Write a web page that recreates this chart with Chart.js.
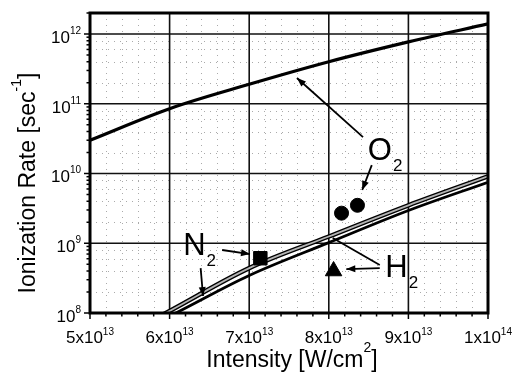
<!DOCTYPE html>
<html lang="en">
<head>
<meta charset="UTF-8">
<title>Ionization Rate</title>
<script src="https://cdn.jsdelivr.net/npm/chart.js"></script>
<style>
  html, body { margin: 0; padding: 0; background: #fff; }
</style>
</head>
<body>
<canvas id="rateChart" width="515" height="375"></canvas>
<script>
// intensity in W/cm^2, rate in 1/sec
const intensity = [5e13, 6e13, 7e13, 8e13, 9e13, 1e14];
const o2Rate = [3.0e10, 8.5e10, 1.9e11, 4.0e11, 7.7e11, 1.4e12];

const intensityLow = [5.8e13, 6e13, 7e13, 8e13, 9e13, 1e14];
const n2Rate = [8.1e7, 1.07e8, 4.4e8, 1.25e9, 3.5e9, 9.1e9];
const h2Rate = [7.0e7, 0.9e8, 3.45e8, 1.02e9, 2.95e9, 7.5e9];

// measured points
const o2MeasX = [8.16e13, 8.36e13];
const o2MeasY = [2.7e9, 3.5e9];
const n2MeasX = [7.14e13];
const n2MeasY = [6.1e8];
const h2MeasX = [8.06e13];
const h2MeasY = [4.0e8];

// tick labels: mantissa x 10^exp
const xTicks = [5e13, 6e13, 7e13, 8e13, 9e13, 1e14];
const xTickMant = ['5', '6', '7', '8', '9', '1'];
const xTickExp = ['13', '13', '13', '13', '13', '14'];
const yTicks = [1e8, 1e9, 1e10, 1e11, 1e12];
const yTickExp = ['8', '9', '10', '11', '12'];

const xTitle = ['Intensity [W/cm', '2', ']'];
const yTitle = ['Ionization Rate [sec', '-1', ']'];

const pts = (xs, ys) => xs.map((x, i) => ({ x: x, y: ys[i] }));

const FONT = '"Liberation Sans", Arial, Helvetica, sans-serif';

// draw "base" + raised "sup" (+ optional tail) with given alignment
function supText(ctx, x, y, parts, size, supSize, rise, align) {
  const [base, sup, tail] = parts;
  ctx.font = size + 'px ' + FONT;
  const w1 = ctx.measureText(base).width;
  const w3 = tail ? ctx.measureText(tail).width : 0;
  ctx.font = supSize + 'px ' + FONT;
  const w2 = ctx.measureText(sup).width;
  const total = w1 + w2 + w3;
  let sx = x;
  if (align === 'center') sx = x - total / 2;
  else if (align === 'right') sx = x - total;
  ctx.textAlign = 'left';
  ctx.textBaseline = 'alphabetic';
  ctx.font = size + 'px ' + FONT;
  ctx.fillText(base, sx, y);
  ctx.font = supSize + 'px ' + FONT;
  ctx.fillText(sup, sx + w1, y - rise);
  if (tail) {
    ctx.font = size + 'px ' + FONT;
    ctx.fillText(tail, sx + w1 + w2, y);
  }
}

function arrow(ctx, x1, y1, x2, y2, head) {
  ctx.beginPath();
  ctx.moveTo(x1, y1);
  ctx.lineTo(x2, y2);
  ctx.stroke();
  if (!head) return;
  const a = Math.atan2(y2 - y1, x2 - x1);
  const len = 9, half = 3.5;
  ctx.beginPath();
  ctx.moveTo(x2, y2);
  ctx.lineTo(x2 - len * Math.cos(a) + half * Math.sin(a), y2 - len * Math.sin(a) - half * Math.cos(a));
  ctx.lineTo(x2 - len * Math.cos(a) - half * Math.sin(a), y2 - len * Math.sin(a) + half * Math.cos(a));
  ctx.closePath();
  ctx.fill();
}

// annotation anchors in data units
const labelsNotes = [
  { txt: ['O', '2'], x: 8.49e13, y: 1.56e10 },
  { txt: ['H', '2'], x: 8.71e13, y: 3.28e8 },
  { txt: ['N', '2'], x: 6.17e13, y: 6.8e8 }
];
const arrowsNotes = [
  { from: [8.43e13, 3.33e10], to: [7.60e13, 2.34e11], head: true },
  { from: [8.54e13, 1.32e10], to: [8.42e13, 5.8e9], head: true },
  { from: [8.64e13, 4.88e8], to: [8.05e13, 1.19e9], head: false },
  { from: [8.64e13, 4.4e8], to: [8.22e13, 4.27e8], head: true },
  { from: [6.66e13, 8.0e8], to: [7.01e13, 7.0e8], head: true },
  { from: [6.39e13, 4.4e8], to: [6.42e13, 1.75e8], head: true }
];

const framePlugin = {
  id: 'frame',
  beforeDatasetsDraw(chart) {
    const { ctx, chartArea: a, scales: { x, y } } = chart;
    ctx.save();
    // minor grid, dotted
    ctx.strokeStyle = '#aaaaaa';
    ctx.lineWidth = 1;
    ctx.setLineDash([1, 5]);
    for (let v = 5e13; v < 1e14; v += 2e12) {
      if (Math.abs(v / 1e13 - Math.round(v / 1e13)) < 1e-6) continue;
      const px = Math.round(x.getPixelForValue(v)) + 0.5;
      ctx.beginPath(); ctx.moveTo(px, a.top); ctx.lineTo(px, a.bottom); ctx.stroke();
    }
    yTicks.forEach(d => {
      [2, 4, 6, 8].forEach(m => {
        const v = d * m;
        if (v >= y.max) return;
        const py = Math.round(y.getPixelForValue(v)) + 0.5;
        ctx.beginPath(); ctx.moveTo(a.left, py); ctx.lineTo(a.right, py); ctx.stroke();
      });
    });
    ctx.setLineDash([]);
    // major grid
    ctx.strokeStyle = '#111';
    ctx.lineWidth = 1.6;
    xTicks.forEach(v => {
      const px = x.getPixelForValue(v);
      ctx.beginPath(); ctx.moveTo(px, a.top); ctx.lineTo(px, a.bottom); ctx.stroke();
    });
    yTicks.forEach(v => {
      const py = y.getPixelForValue(v);
      ctx.beginPath(); ctx.moveTo(a.left, py); ctx.lineTo(a.right, py); ctx.stroke();
    });
    ctx.restore();
  },
  afterDatasetsDraw(chart) {
    const { ctx, chartArea: a, scales: { x, y } } = chart;
    ctx.save();
    ctx.fillStyle = '#000';
    ctx.strokeStyle = '#000';
    // frame
    ctx.lineWidth = 3;
    ctx.strokeRect(a.left, a.top, a.right - a.left, a.bottom - a.top);
    // ticks
    ctx.lineWidth = 1.5;
    yTicks.forEach(d => {
      for (let m = 1; m <= 9; m++) {
        const v = d * m;
        if (v > y.max) break;
        const py = y.getPixelForValue(v);
        const len = m === 1 ? 6 : 3.5;
        ctx.beginPath(); ctx.moveTo(a.left, py); ctx.lineTo(a.left - len, py); ctx.stroke();
      }
    });
    for (let v = 5e13; v <= 1e14 + 1; v += 2e12) {
      const major = Math.abs(v / 1e13 - Math.round(v / 1e13)) < 1e-6;
      const px = x.getPixelForValue(v);
      ctx.beginPath(); ctx.moveTo(px, a.bottom); ctx.lineTo(px, a.bottom + (major ? 6 : 3.5)); ctx.stroke();
    }
    // tick labels
    xTicks.forEach((v, i) => {
      supText(ctx, x.getPixelForValue(v), a.bottom + 30, [xTickMant[i] + 'x10', xTickExp[i]], 17, 10, 8, 'center');
    });
    yTicks.forEach((v, i) => {
      supText(ctx, a.left - 9, y.getPixelForValue(v) + 9, ['10', yTickExp[i]], 17, 10, 9, 'right');
    });
    // axis titles
    supText(ctx, (a.left + a.right) / 2 + 3, a.bottom + 54, xTitle, 23, 14, 15, 'center');
    ctx.save();
    ctx.translate(35, 183);
    ctx.rotate(-Math.PI / 2);
    supText(ctx, 0, 0, yTitle, 23, 14, 14, 'center');
    ctx.restore();
    // annotations
    labelsNotes.forEach(n => {
      const px = x.getPixelForValue(n.x), py = y.getPixelForValue(n.y);
      ctx.font = '31px ' + FONT;
      ctx.textAlign = 'left';
      ctx.textBaseline = 'alphabetic';
      ctx.fillText(n.txt[0], px, py);
      const w = ctx.measureText(n.txt[0]).width;
      ctx.font = '17px ' + FONT;
      ctx.fillText(n.txt[1], px + w + 1, py + 11);
    });
    ctx.lineWidth = 1.8;
    arrowsNotes.forEach(n => {
      arrow(ctx, x.getPixelForValue(n.from[0]), y.getPixelForValue(n.from[1]),
        x.getPixelForValue(n.to[0]), y.getPixelForValue(n.to[1]), n.head);
    });
    ctx.restore();
  }
};

new Chart(document.getElementById('rateChart').getContext('2d'), {
  type: 'line',
  data: {
    datasets: [
      { label: 'O2 meas', data: pts(o2MeasX, o2MeasY), showLine: false, pointStyle: 'circle',
        pointRadius: 7, backgroundColor: '#000', borderColor: '#000', order: 0 },
      { label: 'N2 meas', data: pts(n2MeasX, n2MeasY), showLine: false, pointStyle: 'rect',
        pointRadius: 9.5, backgroundColor: '#000', borderColor: '#000', order: 0 },
      { label: 'H2 meas', data: pts(h2MeasX, h2MeasY), showLine: false, pointStyle: 'triangle',
        pointRadius: 9.5, backgroundColor: '#000', borderColor: '#000', order: 0 },
      { label: 'O2', data: pts(intensity, o2Rate), borderColor: '#000', borderWidth: 3.2,
        pointRadius: 0, tension: 0.35, clip: 0, order: 3 },
      { label: 'N2 core', data: pts(intensityLow, n2Rate), borderColor: '#b4b4b4', borderWidth: 1.8,
        pointRadius: 0, cubicInterpolationMode: 'monotone', clip: 0, order: 1 },
      { label: 'N2', data: pts(intensityLow, n2Rate), borderColor: '#000', borderWidth: 4.5,
        pointRadius: 0, cubicInterpolationMode: 'monotone', clip: 0, order: 2 },
      { label: 'H2', data: pts(intensityLow, h2Rate), borderColor: '#000', borderWidth: 2.8,
        pointRadius: 0, cubicInterpolationMode: 'monotone', clip: 0, order: 3 }
    ]
  },
  options: {
    responsive: false,
    animation: false,
    layout: { padding: { left: 90, right: 27, top: 13, bottom: 62 } },
    plugins: { legend: { display: false }, tooltip: { enabled: false } },
    scales: {
      x: { type: 'linear', min: 5e13, max: 1e14, display: false },
      y: { type: 'logarithmic', min: 1e8, max: 2e12, display: false }
    }
  },
  plugins: [framePlugin]
});
</script>
</body>
</html>
